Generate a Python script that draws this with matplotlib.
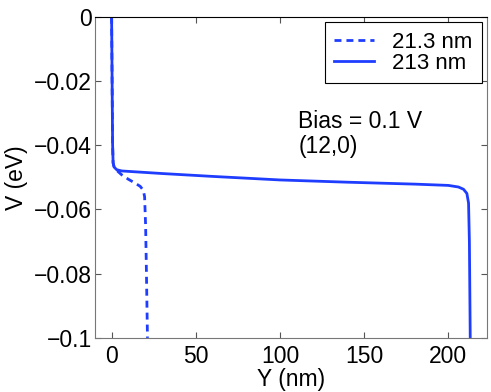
import matplotlib
matplotlib.use('agg')
import matplotlib.pyplot as plt

# potential profile along the ribbon
y_short = [0, 0.3, 0.6, 0.9, 1.5, 3, 6, 10, 14, 17, 18.8, 19.6, 20.2, 20.7, 21.3]
v_short = [0, -0.02, -0.04, -0.0455, -0.0468, -0.0478, -0.0492, -0.0506, -0.0518,
           -0.0528, -0.0540, -0.0560, -0.065, -0.08, -0.1]

y_long = [0, 0.3, 0.6, 0.9, 1.5, 3, 6, 12, 30, 60, 100, 140, 180, 200, 206,
          209, 211, 212, 212.5, 213]
v_long = [0, -0.02, -0.04, -0.0455, -0.0468, -0.0476, -0.048, -0.0482, -0.0488,
          -0.0497, -0.0508, -0.0515, -0.0521, -0.0525, -0.0530, -0.0537,
          -0.0550, -0.058, -0.07, -0.1]

labels = ['21.3 nm', '213 nm']
annot = ['Bias = 0.1 V', '(12,0)']

plt.rcParams['font.family'] = ['Liberation Sans', 'DejaVu Sans']
plt.rcParams['font.size'] = 16.5

blue = '#1f3dff'
fig = plt.figure(figsize=(4.91, 3.92), dpi=100)
ax = fig.add_axes([0.193, 0.138, 0.799, 0.819])

ax.plot(y_short, v_short, color=blue, lw=2, linestyle=(0, (2.5, 1.8)), label=labels[0])
ax.plot(y_long, v_long, color=blue, lw=2, label=labels[1])

ax.set_xlim(-10, 223)
ax.set_ylim(-0.1, 0)
ax.set_xticks([0, 50, 100, 150, 200])
ax.set_yticks([-0.1, -0.08, -0.06, -0.04, -0.02, 0])
ax.set_yticklabels(['\u22120.1', '\u22120.08', '\u22120.06', '\u22120.04', '\u22120.02', '0'])
ax.tick_params(direction='in', top=True, right=True, length=4, width=0.8, color='#555555')
ax.tick_params(axis='x', pad=5)
ax.tick_params(axis='y', pad=2)
for s in ['left', 'bottom', 'right']:
    ax.spines[s].set_color('#777777')
ax.spines['top'].set_color('black')

ax.set_xlabel('Y (nm)', labelpad=0)
ax.set_ylabel('V (eV)', labelpad=4)

ax.text(111, -0.0327, annot[0], ha='left', va='center')
ax.text(111, -0.0405, annot[1], ha='left', va='center')

leg = ax.legend(loc='upper right', borderaxespad=0.25, fancybox=False,
                handlelength=1.8, handletextpad=0.8, labelspacing=0.0,
                borderpad=0.42, framealpha=1, fontsize=16)
leg.get_frame().set_edgecolor('black')
leg.get_frame().set_linewidth(0.8)

fig.savefig('out.png', dpi=100)
